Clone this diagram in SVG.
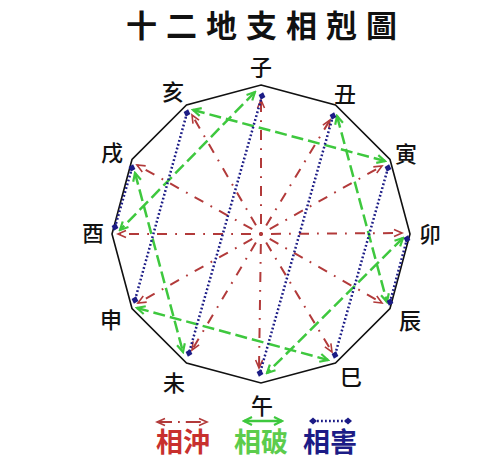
<svg xmlns="http://www.w3.org/2000/svg" width="494" height="459" viewBox="0 0 494 459">
<style>
.lbl{font-family:"Noto Sans CJK TC","Noto Sans CJK SC",sans-serif;font-size:22px;font-weight:500;fill:#111;text-anchor:middle}
.title{font-family:"Noto Sans CJK TC","Noto Sans CJK SC",sans-serif;font-size:31px;font-weight:700;fill:#111;text-anchor:middle;letter-spacing:9px}
.leg{font-family:"Noto Sans CJK TC","Noto Sans CJK SC",sans-serif;font-size:27px;font-weight:700;text-anchor:middle}
.red{stroke:#b23a3a;stroke-width:2;fill:none;stroke-dasharray:10 8 1.8 8.2;stroke-dashoffset:18;marker-end:url(#ar)}
.grn{stroke:#3ec83e;stroke-width:2.5;fill:none;stroke-dasharray:12 5;marker-start:url(#ag);marker-end:url(#ag)}
.blu{stroke:#1c1c86;stroke-width:2.5;fill:none;stroke-dasharray:1.8 2.2;marker-start:url(#ab);marker-end:url(#ab)}
</style>
<defs>
<marker id="ar" viewBox="-10 -6 12 12" markerWidth="12" markerHeight="12" refX="0" refY="0" orient="auto-start-reverse" markerUnits="userSpaceOnUse">
<path d="M-8,-3.5 L0,0 L-8,3.5" fill="none" stroke="#b23a3a" stroke-width="1.6"/>
</marker>
<marker id="ag" viewBox="-10 -6 12 12" markerWidth="12" markerHeight="12" refX="0" refY="0" orient="auto-start-reverse" markerUnits="userSpaceOnUse">
<path d="M-8,-4 L0,0 L-8,4" fill="none" stroke="#3ec83e" stroke-width="2.2"/>
</marker>
<marker id="ab" viewBox="-5 -5 10 10" markerWidth="10" markerHeight="10" refX="0" refY="0" orient="auto" markerUnits="userSpaceOnUse">
<path d="M-4,0 L0,-3.5 L4,0 L0,3.5 Z" fill="#1c1c86"/>
</marker>
</defs>
<rect width="494" height="459" fill="#fff"/>
<text class="title" x="266" y="37">十二地支相剋圖</text>
<polygon id="frame" points="261,85 335.5,105 390,159.5 410,234 390,308.5 335.5,363 261,383 186.5,363 132,308.5 112,234 132,159.5 186.5,105" fill="none" stroke="#111" stroke-width="1.6"/>
<g id="connectors">
<g id="chong">
<line class="red" x1="261" y1="234" x2="261" y2="100"/>
<line class="red" x1="261" y1="234" x2="330" y2="120"/>
<line class="red" x1="261" y1="234" x2="382" y2="166"/>
<line class="red" x1="261" y1="234" x2="402" y2="233"/>
<line class="red" x1="261" y1="234" x2="382" y2="303"/>
<line class="red" x1="261" y1="234" x2="332" y2="352"/>
<line class="red" x1="261" y1="234" x2="259" y2="368"/>
<line class="red" x1="261" y1="234" x2="192" y2="350"/>
<line class="red" x1="261" y1="234" x2="138" y2="303"/>
<line class="red" x1="261" y1="234" x2="118" y2="234"/>
<line class="red" x1="261" y1="234" x2="137" y2="165"/>
<line class="red" x1="261" y1="234" x2="192" y2="115"/>
<circle cx="261" cy="234" r="1.8" fill="#b23a3a"/>
</g>
<g id="po">
<line class="grn" x1="255" y1="92" x2="120" y2="230"/>
<line class="grn" x1="193" y1="110" x2="385" y2="161"/>
<line class="grn" x1="337" y1="116" x2="387" y2="302"/>
<line class="grn" x1="135" y1="173" x2="183" y2="352"/>
<line class="grn" x1="403" y1="238" x2="267" y2="373"/>
<line class="grn" x1="137" y1="308" x2="328" y2="360"/>
</g>
<g id="hai">
<line class="blu" x1="262" y1="96" x2="189" y2="353"/>
<line class="blu" x1="333" y1="116" x2="260" y2="373"/>
<line class="blu" x1="388" y1="168" x2="335" y2="355"/>
<line class="blu" x1="407" y1="239" x2="390" y2="302"/>
<line class="blu" x1="187" y1="113" x2="135" y2="300"/>
<line class="blu" x1="132" y1="168" x2="115" y2="227"/>
</g>
</g>
<g id="n-zi"><text class="lbl" x="261" y="75">子</text></g>
<g id="n-chou"><text class="lbl" x="345" y="102">丑</text></g>
<g id="n-yin"><text class="lbl" x="406" y="162">寅</text></g>
<g id="n-mao"><text class="lbl" x="430" y="242">卯</text></g>
<g id="n-chen"><text class="lbl" x="410" y="329">辰</text></g>
<g id="n-si"><text class="lbl" x="351" y="385">巳</text></g>
<g id="n-wu"><text class="lbl" x="262" y="414">午</text></g>
<g id="n-wei"><text class="lbl" x="174" y="391">未</text></g>
<g id="n-shen"><text class="lbl" x="111" y="328">申</text></g>
<g id="n-you"><text class="lbl" x="93" y="241">酉</text></g>
<g id="n-xu"><text class="lbl" x="112" y="161">戌</text></g>
<g id="n-hai"><text class="lbl" x="173" y="100">亥</text></g>
<g id="legend">
<line x1="157" y1="422" x2="207" y2="422" stroke="#b23a3a" stroke-width="1.8" stroke-dasharray="15 6 1.8 6" marker-start="url(#ar)" marker-end="url(#ar)"/>
<line x1="244" y1="421" x2="282" y2="421" stroke="#3ec83e" stroke-width="2.5" marker-start="url(#ag)" marker-end="url(#ag)"/>
<line x1="313" y1="421" x2="348" y2="421" stroke="#1c1c86" stroke-width="2.5" stroke-dasharray="1.8 2.2" marker-start="url(#ab)" marker-end="url(#ab)"/>
<text class="leg" x="183" y="452" fill="#c8302e">相沖</text>
<text class="leg" x="261" y="452" fill="#5ccc4c">相破</text>
<text class="leg" x="330" y="452" fill="#1c1c86">相害</text>
</g>
</svg>
